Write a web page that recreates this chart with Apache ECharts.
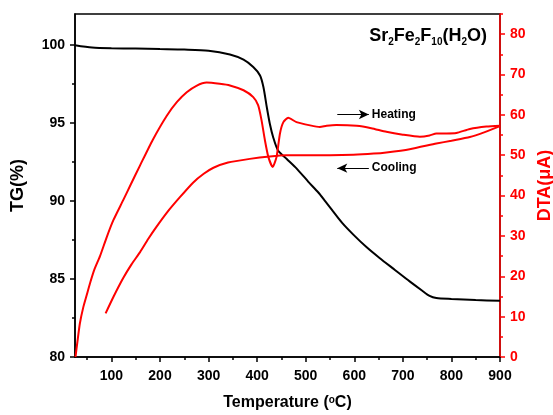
<!DOCTYPE html>
<html>
<head>
<meta charset="utf-8">
<script src="https://cdn.jsdelivr.net/npm/echarts@6/dist/echarts.min.js"></script>
<style>
  html, body { margin: 0; padding: 0; background: #fff; }
  #main { width: 553px; height: 415px; }
</style>
</head>
<body>
<div id="main"></div>
<script>
// TG curve (left axis)
const tgTemp = [25, 60, 100, 150, 200, 250, 300, 344, 372, 392, 406, 413, 420, 426, 433, 443, 461, 481, 505, 526, 540, 556, 575, 598, 625, 652, 683, 714, 740, 755, 769, 800, 850, 900];
const tgValue = [100.0, 99.85, 99.8, 99.78, 99.75, 99.72, 99.65, 99.4, 99.07, 98.6, 98.06, 97.3, 96.0, 94.98, 94.1, 93.25, 92.7, 92.1, 91.25, 90.55, 90.0, 89.35, 88.6, 87.85, 87.05, 86.35, 85.6, 84.85, 84.25, 83.92, 83.78, 83.72, 83.65, 83.6];

// DTA heating (right axis)
const heatTemp = [26, 30, 35, 42, 49, 57, 65, 76.5, 90, 104, 124, 140, 159, 185, 214, 235, 255, 275, 296, 323, 344, 372, 392, 402, 409, 416, 423, 432, 440, 447, 454, 464, 481, 509, 529, 543, 563, 605, 635, 666, 700, 735, 755, 769, 790, 810, 838, 872, 900];
const heatValue = [0, 3.8, 8.3, 12.3, 15.3, 18.7, 21.7, 25.0, 29.6, 33.9, 38.8, 42.8, 47.5, 53.8, 59.8, 63.2, 65.6, 67.2, 68.0, 67.7, 67.3, 66.1, 64.4, 62.4, 58.7, 53.7, 49.6, 47.1, 49.6, 55.4, 58.2, 59.3, 58.2, 57.4, 57.0, 57.3, 57.5, 57.3, 56.7, 55.8, 55.1, 54.6, 54.9, 55.4, 55.4, 55.5, 56.5, 57.1, 57.3];

// DTA cooling (right axis)
const coolTemp = [88, 105, 124, 141, 159, 176, 193, 215, 241, 268, 290, 310, 340, 385, 426, 460, 509, 550, 598, 640, 666, 714, 769, 800, 838, 870, 900];
const coolValue = [10.8, 15.1, 19.5, 22.9, 26.0, 29.3, 32.3, 35.9, 39.6, 43.2, 45.4, 46.9, 48.2, 49.1, 49.7, 50.0, 50.0, 50.0, 50.1, 50.4, 50.7, 51.5, 52.9, 53.6, 54.5, 55.8, 57.2];

// tick labels
const xTicks = [100, 200, 300, 400, 500, 600, 700, 800, 900];
const xMinor = [50, 150, 250, 350, 450, 550, 650, 750, 850];
const tgTicks = [80, 85, 90, 95, 100];
const tgMinor = [82.5, 87.5, 92.5, 97.5];
const dtaTicks = [0, 10, 20, 30, 40, 50, 60, 70, 80];
const dtaMinor = [5, 15, 25, 35, 45, 55, 65, 75, 85];

const FONT = 'Liberation Sans, Arial, sans-serif';
const RED = '#ff0000';

const pairs = (xs, ys) => xs.map((x, i) => [x, ys[i]]);

const myChart = echarts.init(document.getElementById('main'));

const labelStyle = (color) => ({
  color: color,
  fontFamily: FONT,
  fontWeight: 'bold',
  fontSize: 14,
});

const option = {
  animation: false,
  backgroundColor: '#fff',
  title: {
    text: '{a|Sr}{s|2}{a|Fe}{s|2}{a|F}{s|10}{a|(H}{s|2}{a|O)}',
    right: 61,
    top: 20,
    textStyle: {
      rich: {
        a: { fontSize: 18, fontWeight: 'bold', fontFamily: FONT, color: '#000', lineHeight: 22 },
        s: { fontSize: 10, fontWeight: 'bold', fontFamily: FONT, color: '#000', lineHeight: 10, verticalAlign: 'bottom' },
      },
    },
  },
  grid: {
    left: 75, right: 53, top: 14, bottom: 58,
    outerBoundsMode: 'none',
    containLabel: false,
    show: true, borderColor: '#000', borderWidth: 1.5, backgroundColor: 'transparent',
  },
  xAxis: [
    {
      type: 'value', min: 25, max: 900, position: 'bottom',
      name: 'Temperature ({o|o}C)',
      nameLocation: 'middle', nameGap: 38,
      nameTextStyle: {
        fontFamily: FONT, fontWeight: 'bold', fontSize: 16, color: '#000',
        rich: { o: { fontFamily: FONT, fontWeight: 'bold', fontSize: 10, color: '#000', verticalAlign: 'top', lineHeight: 10 } },
      },
      axisLine: { lineStyle: { color: '#000', width: 1.5 } },
      axisTick: { customValues: xTicks, length: 5, lineStyle: { color: '#000', width: 1.5 } },
      axisLabel: Object.assign({ customValues: xTicks, margin: 12 }, labelStyle('#000')),
      splitLine: { show: false },
    },
    {
      type: 'value', min: 25, max: 900, position: 'bottom',
      axisLine: { show: false },
      axisTick: { customValues: xMinor, length: 3, lineStyle: { color: '#000', width: 1.5 } },
      axisLabel: { show: false },
      splitLine: { show: false },
    },
  ],
  yAxis: [
    {
      type: 'value', min: 80, max: 102, position: 'left',
      name: 'TG(%)', nameLocation: 'middle', nameGap: 48, nameRotate: 90,
      nameTextStyle: { fontFamily: FONT, fontWeight: 'bold', fontSize: 18, color: '#000' },
      axisLine: { show: true, lineStyle: { color: '#000', width: 1.5 } },
      axisTick: { show: true, customValues: tgTicks, length: 5, lineStyle: { color: '#000', width: 1.5 } },
      axisLabel: Object.assign({ customValues: tgTicks, margin: 10 }, labelStyle('#000')),
      splitLine: { show: false },
    },
    {
      type: 'value', min: 80, max: 102, position: 'left',
      axisLine: { show: false },
      axisTick: { show: true, customValues: tgMinor, length: 3, lineStyle: { color: '#000', width: 1.5 } },
      axisLabel: { show: false },
      splitLine: { show: false },
    },
    {
      type: 'value', min: 0, max: 85, position: 'right',
      name: 'DTA(μA)', nameLocation: 'middle', nameGap: 33, nameRotate: 90,
      nameTextStyle: { fontFamily: FONT, fontWeight: 'bold', fontSize: 18, color: RED },
      axisLine: { show: true, lineStyle: { color: RED, width: 1.5 } },
      axisTick: { show: true, customValues: dtaTicks, length: 5, lineStyle: { color: RED, width: 1.5 } },
      axisLabel: Object.assign({ customValues: dtaTicks, margin: 10 }, labelStyle(RED)),
      splitLine: { show: false },
    },
    {
      type: 'value', min: 0, max: 85, position: 'right',
      axisLine: { show: false },
      axisTick: { show: true, customValues: dtaMinor, length: 3, lineStyle: { color: RED, width: 1.5 } },
      axisLabel: { show: false },
      splitLine: { show: false },
    },
  ],
  series: [
    {
      name: 'TG', type: 'line', xAxisIndex: 0, yAxisIndex: 0,
      data: pairs(tgTemp, tgValue),
      showSymbol: false, smooth: 0.25,
      lineStyle: { color: '#000', width: 2 }, itemStyle: { color: '#000' },
    },
    {
      name: 'Heating', type: 'line', xAxisIndex: 0, yAxisIndex: 2,
      data: pairs(heatTemp, heatValue),
      showSymbol: false, smooth: 0.2,
      lineStyle: { color: RED, width: 2 }, itemStyle: { color: RED },
      markLine: {
        silent: true, animation: false,
        symbol: ['none', 'arrow'], symbolSize: [7, 10],
        lineStyle: { color: '#000', width: 1, type: 'solid' },
        label: { show: true, position: 'end', formatter: 'Heating', distance: 3, color: '#000', fontFamily: FONT, fontWeight: 'bold', fontSize: 12 },
        data: [[{ coord: [565, 60.1] }, { coord: [630, 60.1] }]],
      },
    },
    {
      name: 'Cooling', type: 'line', xAxisIndex: 0, yAxisIndex: 2,
      data: pairs(coolTemp, coolValue),
      showSymbol: false, smooth: 0.2,
      lineStyle: { color: RED, width: 2 }, itemStyle: { color: RED },
      markLine: {
        silent: true, animation: false,
        symbol: ['none', 'arrow'], symbolSize: [7, 10],
        lineStyle: { color: '#000', width: 1, type: 'solid' },
        label: { show: true, position: 'start', formatter: 'Cooling', distance: 3, color: '#000', fontFamily: FONT, fontWeight: 'bold', fontSize: 12 },
        data: [[{ coord: [630, 46.8] }, { coord: [565, 46.8] }]],
      },
    },
  ],
};

myChart.setOption(option);
</script>
</body>
</html>
